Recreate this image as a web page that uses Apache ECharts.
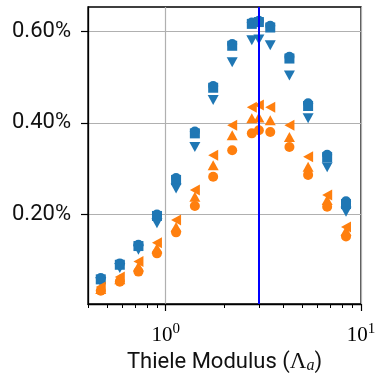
<!DOCTYPE html>
<html>
<head>
<meta charset="utf-8">
<script src="https://cdn.jsdelivr.net/npm/echarts@6/dist/echarts.min.js"></script>
<style>
html, body { margin: 0; padding: 0; background: #fff; }
#chart { width: 377px; height: 375px; }
</style>
</head>
<body>
<div id="chart"></div>
<script>
// Thiele modulus values (x)
var thiele = [0.465, 0.582, 0.725, 0.902, 1.13, 1.41, 1.75, 2.19, 2.76, 3.0, 3.43, 4.30, 5.36, 6.71, 8.38];

// blue group (%)
var blueCircle = [0.060, 0.092, 0.133, 0.199, 0.279, 0.381, 0.481, 0.573, 0.620, 0.624, 0.613, 0.545, 0.443, 0.330, 0.228];
var blueSquare = [0.057, 0.089, 0.130, 0.196, 0.275, 0.377, 0.477, 0.569, 0.617, 0.621, 0.609, 0.541, 0.437, 0.325, 0.222];
var blueDown   = [0.051, 0.082, 0.122, 0.180, 0.256, 0.347, 0.450, 0.533, 0.581, 0.583, 0.570, 0.504, 0.410, 0.303, 0.205];

// orange group (%)
var orangeCircle = [0.032, 0.052, 0.074, 0.114, 0.160, 0.218, 0.282, 0.340, 0.377, 0.384, 0.380, 0.347, 0.286, 0.216, 0.151];
var orangeUp     = [0.036, 0.057, 0.085, 0.125, 0.172, 0.238, 0.307, 0.373, 0.410, 0.412, 0.406, 0.369, 0.304, 0.231, 0.163];
var orangeLeft   = [0.040, 0.062, 0.096, 0.137, 0.187, 0.253, 0.329, 0.395, 0.434, 0.439, 0.434, 0.395, 0.326, 0.242, 0.172];

var optimum = 3.0;
var yTicks = [0.2, 0.4, 0.6];
var xMajor = [1, 10];
var xMinor = [0.4, 0.5, 0.6, 0.7, 0.8, 0.9, 2, 3, 4, 5, 6, 7, 8, 9];

var BLUE = '#1f77b4', ORANGE = '#ff7f0e';

function pairs(ys) {
    return thiele.map(function (x, i) { return [x, ys[i]]; });
}

function scatter(name, ys, color, symbol, rotate, size) {
    return {
        name: name,
        type: 'scatter',
        data: pairs(ys),
        symbol: symbol,
        symbolRotate: rotate,
        symbolSize: size,
        itemStyle: { color: color, opacity: 1 },
        silent: true
    };
}

var chart = echarts.init(document.getElementById('chart'), null, { renderer: 'canvas' });
chart.setOption({
    animation: false,
    grid: {
        left: 88, right: 16, top: 7, bottom: 71,
        outerBoundsMode: 'none',
        show: true, borderColor: '#000', borderWidth: 1.3
    },
    xAxis: [{
        type: 'log',
        logBase: 10,
        min: 0.4,
        max: 10,
        axisLine: { show: true, lineStyle: { color: '#000', width: 1.3 } },
        axisTick: { show: true, inside: false, length: 7, customValues: xMajor, lineStyle: { color: '#000', width: 1.2 } },
        axisLabel: {
            customValues: xMajor,
            margin: 18,
            color: '#000',
            formatter: function (v) {
                if (Math.abs(v - 1) < 1e-6) return '{b|10}{s|0}';
                if (Math.abs(v - 10) < 1e-6) return '{b|10}{s|1}';
                return '';
            },
            rich: {
                b: { fontFamily: 'Liberation Serif', fontSize: 21, color: '#000', verticalAlign: 'bottom', lineHeight: 24 },
                s: { fontFamily: 'Liberation Serif', fontSize: 15, color: '#000', verticalAlign: 'top', lineHeight: 24 }
            }
        },
        splitLine: { show: true, lineStyle: { color: '#b0b0b0', width: 1.2 } },
        name: '{t|Thiele Modulus (}{g|\u039B}{i|a}{t|)}',
        nameLocation: 'middle',
        nameGap: 37,
        nameTextStyle: {
            rich: {
                t: { fontFamily: 'Roboto', fontSize: 22, color: '#111', verticalAlign: 'bottom', lineHeight: 27 },
                g: { fontFamily: 'Liberation Serif', fontSize: 23, color: '#111', verticalAlign: 'bottom', lineHeight: 27 },
                i: { fontFamily: 'Liberation Serif', fontStyle: 'italic', fontSize: 16, color: '#111', verticalAlign: 'bottom', lineHeight: 20 }
            }
        }
    }, {
        type: 'log',
        logBase: 10,
        min: 0.4,
        max: 10,
        position: 'bottom',
        axisLine: { show: false },
        axisTick: { show: true, inside: false, length: 4, customValues: xMinor, lineStyle: { color: '#000', width: 1 } },
        axisLabel: { show: false },
        splitLine: { show: false }
    }],
    yAxis: {
        type: 'value',
        min: 0.003,
        max: 0.654,
        axisLine: { show: true, lineStyle: { color: '#000', width: 1.3 } },
        axisTick: { show: true, inside: false, length: 7, customValues: yTicks, lineStyle: { color: '#000', width: 1.2 } },
        axisLabel: {
            customValues: yTicks,
            margin: 17,
            color: '#111',
            fontFamily: 'Roboto',
            fontSize: 22,
            formatter: function (v) { return v.toFixed(2) + '%'; }
        },
        splitLine: { show: true, lineStyle: { color: '#b0b0b0', width: 1.2 } }
    },
    series: [
        scatter('blue circle', blueCircle, BLUE, 'circle', 0, 10),
        scatter('blue square', blueSquare, BLUE, 'rect', 0, 10),
        scatter('blue down', blueDown, BLUE, 'triangle', 180, [11, 10]),
        scatter('orange circle', orangeCircle, ORANGE, 'circle', 0, 10),
        scatter('orange up', orangeUp, ORANGE, 'triangle', 0, [11, 10]),
        scatter('orange left', orangeLeft, ORANGE, 'triangle', 90, [11, 10]),
        {
            name: 'optimum',
            type: 'line',
            data: [],
            silent: true,
            z: 5,
            markLine: {
                silent: true,
                symbol: 'none',
                label: { show: false },
                lineStyle: { color: '#0000ff', width: 2, type: 'solid' },
                data: [{ xAxis: optimum }]
            }
        }
    ]
});
</script>
</body>
</html>
